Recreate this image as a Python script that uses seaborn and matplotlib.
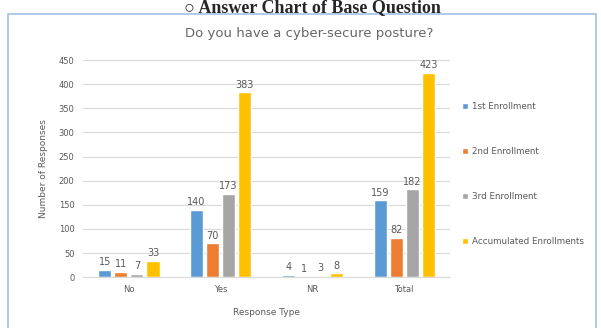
import pandas as pd
import matplotlib.pyplot as plt
import matplotlib.patches as mpatches
import seaborn as sns

# Values
categories = ['No', 'Yes', 'NR', 'Total']
series = ['1st Enrollment', '2nd Enrollment', '3rd Enrollment', 'Accumulated Enrollments']
first_enr = [15, 140, 4, 159]
second_enr = [11, 70, 1, 82]
third_enr = [7, 173, 3, 182]
accum_enr = [33, 383, 8, 423]
colors = ['#5B9BD5', '#ED7D31', '#A5A5A5', '#FFC000']

df = pd.DataFrame({
    'Response Type': categories * 4,
    'Enrollment': sum([[s] * 4 for s in series], []),
    'Count': first_enr + second_enr + third_enr + accum_enr,
})

sns.set_style('white')
plt.rcParams['font.family'] = ['DejaVu Sans']

fig = plt.figure(figsize=(6.01, 3.28), dpi=100)
ax = fig.add_axes([0.138, 0.155, 0.611, 0.662])

sns.barplot(data=df, x='Response Type', y='Count', hue='Enrollment',
            order=categories, hue_order=series, palette=colors, saturation=1,
            width=0.7, gap=0.18, ax=ax, legend=True)

txt = '#595959'
for cont in ax.containers:
    ax.bar_label(cont, padding=2, fontsize=7, color=txt)

ax.set_ylim(0, 450)
ax.set_yticks(range(0, 451, 50))
ax.set_xlim(-0.5, 3.5)
ax.yaxis.grid(True, color='#D9D9D9', linewidth=0.8)
ax.set_axisbelow(True)
for s in ['top', 'right', 'left']:
    ax.spines[s].set_visible(False)
ax.spines['bottom'].set_color('#D9D9D9')
ax.tick_params(axis='both', length=0, labelsize=6, colors=txt, pad=6)
ax.set_xlabel('Response Type', fontsize=6.5, color=txt, labelpad=10)
ax.set_ylabel('Number of Responses', fontsize=6.5, color=txt, labelpad=8)

handles, labels = ax.get_legend_handles_labels()
ax.legend_.remove()
fig.legend(handles, labels, loc='center left', bbox_to_anchor=(0.755, 0.47),
           frameon=False, fontsize=6.3, labelcolor=txt, labelspacing=4.1,
           handlelength=0.7, handleheight=0.7, handletextpad=0.5)

fig.text(0.515, 1 - 33 / 328, 'Do you have a cyber-secure posture?',
         ha='center', va='center', fontsize=9.5, color='#666666')

# outer chart box and the document heading above it
fig.patches.append(mpatches.Rectangle((8 / 601, -0.01), 588 / 601, 1 - 14 / 328 + 0.01,
                                      transform=fig.transFigure, fill=False,
                                      edgecolor='#9DC3E6', linewidth=1.2))
fig.text(0.52, 1 - 12 / 328, '\u25cb Answer Chart of Base Question',
         ha='center', va='baseline', fontsize=13, fontweight='bold',
         family=['Liberation Serif', 'DejaVu Sans'])

fig.savefig('out.png', dpi=100)
